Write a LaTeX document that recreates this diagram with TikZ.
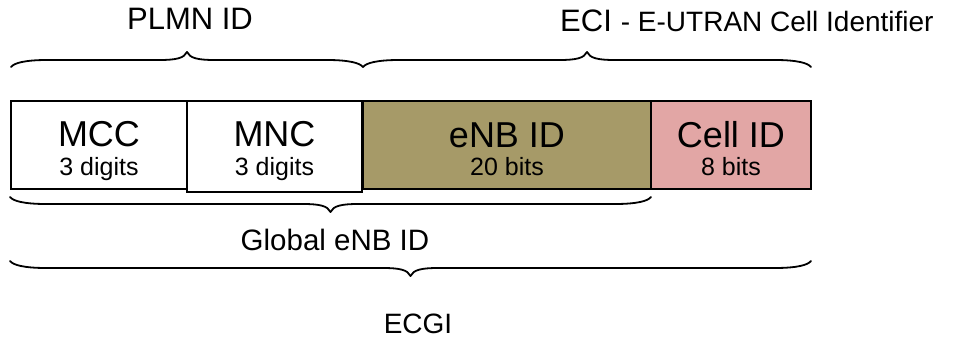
\documentclass[tikz,border=0pt]{standalone}
\usepackage{fontspec}
\setmainfont{Liberation Sans}
\newcommand{\fsz}[1]{\fontsize{#1}{#1}\selectfont}
% horizontal curly brace: #1 left x, #2 right x, #3 y of the ends, #4 direction (+1 down, -1 up)
\newcommand{\curlybrace}[4]{%
  \pgfmathsetmacro{\bxm}{(#1+#2)/2}%
  \draw[bracestyle] (#1,#3)
    .. controls ({#1+3},{#3+#4*4}) and ({#1+14},{#3+#4*7}) .. ({#1+36},{#3+#4*7})
    -- ({\bxm-28},{#3+#4*7})
    .. controls ({\bxm-10},{#3+#4*7}) and ({\bxm-3},{#3+#4*9}) .. (\bxm,{#3+#4*15})
    .. controls ({\bxm+3},{#3+#4*9}) and ({\bxm+10},{#3+#4*7}) .. ({\bxm+28},{#3+#4*7})
    -- ({#2-36},{#3+#4*7})
    .. controls ({#2-14},{#3+#4*7}) and ({#2-3},{#3+#4*4}) .. (#2,#3);
}
\definecolor{enbfill}{RGB}{166,154,104}
\definecolor{cellfill}{RGB}{226,166,165}
\tikzset{
  field/.style={draw=black, line width=2pt, inner sep=0pt},
  bigtxt/.style={anchor=base, inner sep=0pt, font=\fsz{36}},
  smalltxt/.style={anchor=base, inner sep=0pt, font=\fsz{25}},
  label/.style={anchor=base, inner sep=0pt},
  bracestyle/.style={line width=1.8pt, line cap=round, line join=round}
}
\begin{document}
\begin{tikzpicture}[x=1pt, y=-1pt]
\useasboundingbox (0,0) rectangle (953,337);

% identifier fields
\node[field, fill=white, minimum width=176pt, minimum height=88pt] (mcc) at (99,145) {};
\node[field, fill=white, minimum width=175pt, minimum height=91pt] (mnc) at (274.5,146.5) {};
\node[field, fill=enbfill, minimum width=288pt, minimum height=88pt] (enb) at (507,145) {};
\node[field, fill=cellfill, minimum width=160pt, minimum height=88pt] (cell) at (731,145) {};

\node[bigtxt] (mcct) at (99,146) {MCC};
\node[smalltxt] (mccs) at (99,175) {3 digits};
\node[bigtxt] (mnct) at (274.5,146) {MNC};
\node[smalltxt] (mncs) at (274.5,175) {3 digits};
\node[bigtxt] (enbt) at (507,147) {eNB ID};
\node[smalltxt] (enbs) at (507,175) {20 bits};
\node[bigtxt] (cellt) at (731,147) {Cell ID};
\node[smalltxt] (cells) at (731,175) {8 bits};

% braces above the fields
\curlybrace{11}{363}{67}{-1}
\curlybrace{363}{811}{67}{-1}
\node[label, font=\fsz{31}] (plmn) at (190,30) {PLMN ID};
\node[label, anchor=base west] (eci) at (560,32)
  {{\fsz{31}ECI}\hspace{9pt}{\fsz{28}- E-UTRAN Cell Identifier}};

% braces below the fields
\curlybrace{10}{651}{197}{1}
\curlybrace{10}{811}{261}{1}
\node[label, font=\fsz{29.5}] (genb) at (335,250) {Global eNB ID};
\node[label, font=\fsz{28}] (ecgi) at (418,333) {ECGI};
\end{tikzpicture}
\end{document}
